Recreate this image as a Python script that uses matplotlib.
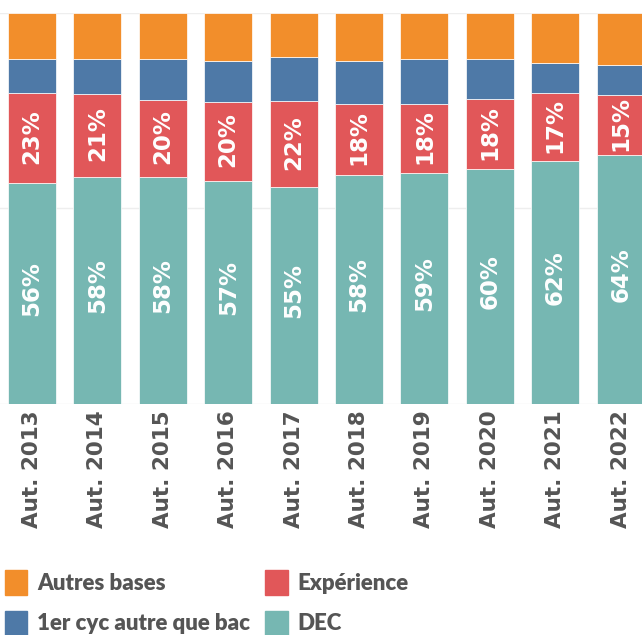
import numpy as np
import matplotlib
matplotlib.use("Agg")
import matplotlib.pyplot as plt
from matplotlib.patches import Patch

# datos (en %)
annees = ["Aut. 2013", "Aut. 2014", "Aut. 2015", "Aut. 2016", "Aut. 2017",
          "Aut. 2018", "Aut. 2019", "Aut. 2020", "Aut. 2021", "Aut. 2022"]
dec = [56.4, 57.9, 57.9, 56.9, 55.4, 58.4, 58.9, 60.0, 62.0, 63.6]
experience = [23.0, 21.4, 19.7, 20.4, 22.0, 18.4, 17.9, 17.9, 17.4, 15.4]
premier_cyc = [8.7, 8.8, 10.6, 10.3, 11.3, 10.8, 11.3, 10.2, 7.7, 7.7]
autres = [11.9, 11.9, 11.8, 12.4, 11.3, 12.4, 11.9, 11.9, 12.9, 13.3]

c_dec = "#76B7B2"
c_exp = "#E15759"
c_cyc = "#4E79A7"
c_aut = "#F28E2B"

fig = plt.figure(figsize=(6.42, 6.35), dpi=100)
ax = fig.add_axes([0, 1 - 403.5 / 635, 1, (403.5 - 13) / 635])

x = np.arange(len(annees))
w = 0.734
b1 = np.array(dec)
b2 = b1 + np.array(experience)
b3 = b2 + np.array(premier_cyc)

ax.bar(x, dec, w, color=c_dec, edgecolor="white", linewidth=0.5, zorder=2)
ax.bar(x, experience, w, bottom=b1, color=c_exp, edgecolor="white", linewidth=0.5, zorder=2)
ax.bar(x, premier_cyc, w, bottom=b2, color=c_cyc, edgecolor="white", linewidth=0.5, zorder=2)
ax.bar(x, autres, w, bottom=b3, color=c_aut, edgecolor="white", linewidth=0.5, zorder=2)

# etiquetas dentro de las barras
for i in range(len(annees)):
    ax.text(x[i], dec[i] / 2 + 1.2, f"{dec[i]:.0f}%", rotation=90, ha="center", va="center",
            color="white", fontsize=16.5, fontweight="bold", zorder=3)
    ax.text(x[i], b1[i] + experience[i] / 2 + 0.5, f"{experience[i]:.0f}%", rotation=90,
            ha="center", va="center", color="white", fontsize=16.5, fontweight="bold", zorder=3)

ax.set_xlim(-32 / 65.4, 9 + (642 - 620.7) / 65.4)
ax.set_ylim(0, 100)
ax.set_yticks([0, 50, 100])
ax.set_yticklabels([])
ax.grid(axis="y", color="#eeeeee", linewidth=1, zorder=0)
ax.tick_params(axis="y", length=0)
ax.set_xticks(x)
ax.set_xticklabels(annees, rotation=90, fontsize=15.5, fontweight="bold", color="#555555")
ax.tick_params(axis="x", length=0, pad=5)
for s in ax.spines.values():
    s.set_visible(False)

handles = [Patch(color=c_aut, label="Autres bases"),
           Patch(color=c_cyc, label="1er cyc autre que bac"),
           Patch(color=c_exp, label="Expérience"),
           Patch(color=c_dec, label="DEC")]
leg = fig.legend(handles=handles, loc="upper left", bbox_to_anchor=(5 / 642, 1 - 570 / 635),
                 ncol=2, frameon=False, borderpad=0, borderaxespad=0,
                 handlelength=1.0, handleheight=1.35, handletextpad=0.45,
                 columnspacing=0.68, labelspacing=0.7,
                 prop={"family": "Lato", "weight": "heavy", "size": 16})
for t in leg.get_texts():
    t.set_color("#555555")

fig.savefig("out.png", dpi=100)
